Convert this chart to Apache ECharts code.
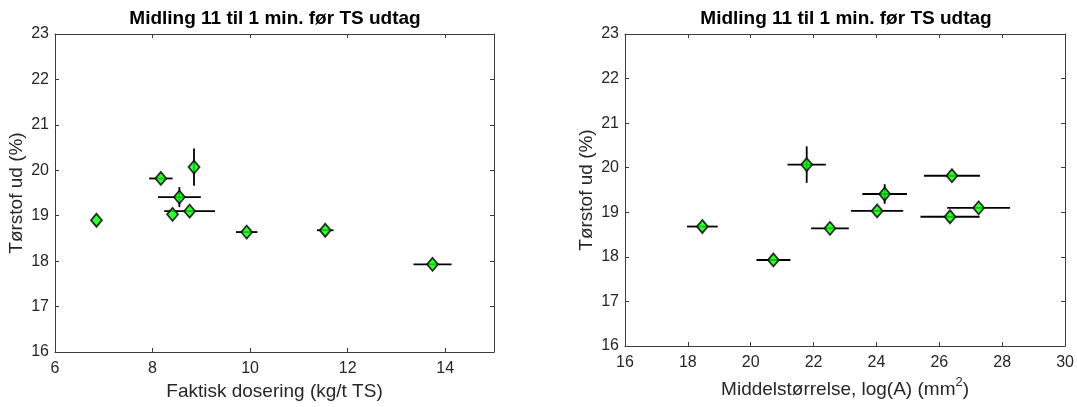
<!DOCTYPE html>
<html>
<head>
<meta charset="utf-8">
<script src="https://cdn.jsdelivr.net/npm/echarts@6/dist/echarts.min.js"></script>
<style>
  html, body { margin: 0; padding: 0; background: #fff; }
  #chart { width: 1077px; height: 407px; }
</style>
</head>
<body>
<div id="chart"></div>
<script>
// Dry solids out (%) per run, shared by both panels
const tsOut = [18.90, 19.82, 20.07, 19.41, 19.03, 19.10, 18.64, 18.68, 17.93];
const tsOutErr = [0, 0, 0.41, 0.22, 0, 0, 0, 0, 0];
// Actual dosing (kg/t TS) with spread
const dosing = [6.85, 8.17, 8.85, 8.55, 8.41, 8.76, 9.93, 11.54, 13.74];
const dosingErr = [0, 0.24, 0, 0.44, 0, 0.52, 0.22, 0.17, 0.39];
// Mean floc size, log(A) (mm^2) with spread
const meanSize = [26.34, 26.40, 21.78, 24.26, 24.02, 27.25, 22.52, 18.46, 20.72];
const meanSizeErr = [0.94, 0.89, 0.61, 0.71, 0.83, 1.00, 0.60, 0.49, 0.54];

const titleText = 'Midling 11 til 1 min. før TS udtag';
const yName = 'Tørstof ud (%)';
const xNameLeft = 'Faktisk dosering (kg/t TS)';

const FONT = '"Liberation Sans", Arial, Helvetica, sans-serif';
const INK = '#262626';
const AXIS = '#3c3c3c';

function pts(xs) { return xs.map((x, i) => [x, tsOut[i]]); }
function errPts(xs, xe) { return xs.map((x, i) => [x, tsOut[i], xe[i], tsOutErr[i]]); }

// Horizontal and vertical error bars without caps
function errorBars(params, api) {
  const x = api.value(0), y = api.value(1), ex = api.value(2), ey = api.value(3);
  const style = { stroke: '#000', lineWidth: 1.8 };
  const kids = [];
  if (ex > 0) {
    const a = api.coord([x - ex, y]), b = api.coord([x + ex, y]);
    kids.push({ type: 'line', shape: { x1: a[0], y1: a[1], x2: b[0], y2: b[1] }, style });
  }
  if (ey > 0) {
    const a = api.coord([x, y - ey]), b = api.coord([x, y + ey]);
    kids.push({ type: 'line', shape: { x1: a[0], y1: a[1], x2: b[0], y2: b[1] }, style });
  }
  return { type: 'group', children: kids };
}

const lineStyle = { color: AXIS, width: 1 };
function valueAxis(extra) {
  return Object.assign({
    type: 'value',
    axisLine: { show: true, onZero: false, lineStyle },
    axisTick: { show: true, inside: true, length: 4, lineStyle },
    splitLine: { show: false },
    axisLabel: { color: INK, fontSize: 16, fontFamily: FONT },
    nameTextStyle: { color: INK, fontSize: 19, fontFamily: FONT }
  }, extra);
}
// Same scale on the opposite side to close the box with inward ticks
function mirror(axis, pos) {
  return Object.assign({}, axis, { position: pos, name: '', axisLabel: { show: false } });
}

const xLeft = valueAxis({ gridIndex: 0, min: 6, max: 15, interval: 2, position: 'bottom',
  name: xNameLeft, nameLocation: 'middle', nameGap: 29,
  axisLabel: { color: INK, fontSize: 16, fontFamily: FONT, margin: 9, showMaxLabel: false } });
const xRight = valueAxis({ gridIndex: 1, min: 16, max: 30, interval: 2, position: 'bottom',
  name: '{a|Middelstørrelse, log(A) (mm}{s|2}{a|)}', nameLocation: 'middle', nameGap: 25,
  nameTextStyle: { color: INK, fontFamily: FONT, rich: {
    a: { fontSize: 19, color: INK, fontFamily: FONT },
    s: { fontSize: 13, color: INK, fontFamily: FONT, padding: [0, 0, 14, 0] } } },
  axisLabel: { color: INK, fontSize: 16, fontFamily: FONT, margin: 9 } });
const yLeft = valueAxis({ gridIndex: 0, min: 16, max: 23, interval: 1, position: 'left',
  name: yName, nameLocation: 'middle', nameGap: 29,
  axisLabel: { color: INK, fontSize: 16, fontFamily: FONT, margin: 6 } });
const yRight = valueAxis({ gridIndex: 1, min: 16, max: 23, interval: 1, position: 'left',
  name: yName, nameLocation: 'middle', nameGap: 29,
  axisLabel: { color: INK, fontSize: 16, fontFamily: FONT, margin: 6 } });

const marker = { color: '#00ff00', borderColor: '#000', borderWidth: 1.8 };

const option = {
  animation: false,
  backgroundColor: '#fff',
  title: [
    { text: titleText, left: 275, top: 9, textAlign: 'center', padding: 0,
      textStyle: { fontSize: 19, fontWeight: 'bold', color: '#000', fontFamily: FONT } },
    { text: titleText, left: 846, top: 9, textAlign: 'center', padding: 0,
      textStyle: { fontSize: 19, fontWeight: 'bold', color: '#000', fontFamily: FONT } }
  ],
  grid: [
    { left: 55, top: 34, width: 439, height: 318 },
    { left: 625, top: 34, width: 442, height: 312 }
  ],
  xAxis: [xLeft, xRight, mirror(xLeft, 'top'), mirror(xRight, 'top')],
  yAxis: [yLeft, yRight, mirror(yLeft, 'right'), mirror(yRight, 'right')],
  series: [
    { type: 'custom', xAxisIndex: 0, yAxisIndex: 0, renderItem: errorBars,
      data: errPts(dosing, dosingErr), z: 2, silent: true },
    { type: 'scatter', xAxisIndex: 0, yAxisIndex: 0, symbol: 'diamond', symbolSize: [11, 13],
      itemStyle: marker, data: pts(dosing), z: 3 },
    { type: 'custom', xAxisIndex: 1, yAxisIndex: 1, renderItem: errorBars,
      data: errPts(meanSize, meanSizeErr), z: 2, silent: true },
    { type: 'scatter', xAxisIndex: 1, yAxisIndex: 1, symbol: 'diamond', symbolSize: [11, 13],
      itemStyle: marker, data: pts(meanSize), z: 3 }
  ]
};

const chart = echarts.init(document.getElementById('chart'), null, { renderer: 'canvas' });
chart.setOption(option);
</script>
</body>
</html>
